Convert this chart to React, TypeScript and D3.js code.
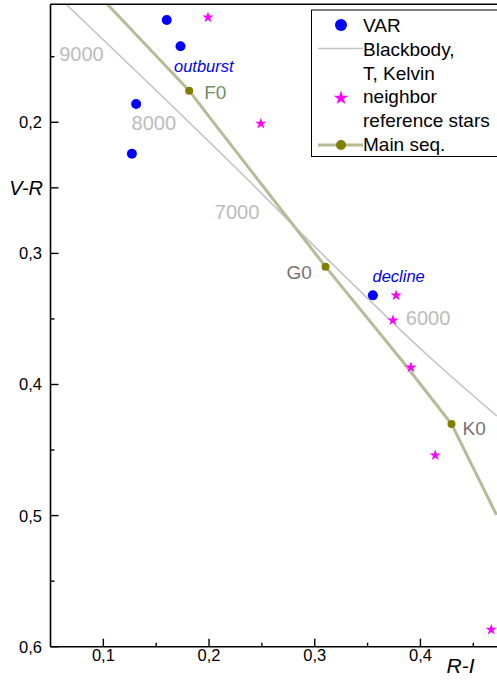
import * as d3 from "d3";

// colour indices
const varRI = [0.160, 0.173, 0.131, 0.127, 0.355];
const varVR = [0.122, 0.142, 0.186, 0.224, 0.332];

const refRI = [0.199, 0.249, 0.377, 0.374, 0.391, 0.414, 0.467];
const refVR = [0.120, 0.201, 0.332, 0.351, 0.387, 0.454, 0.587];

// blackbody track
const bbRI = [0.0645, 0.1298, 0.237, 0.3032, 0.4117, 0.4723];
const bbVR = [0.1098, 0.1601, 0.244, 0.2974, 0.3813, 0.424];
const bbTemps = ["9000", "8000", "7000", "6000"];
const bbTempRI = [0.0582, 0.1267, 0.2055, 0.3862];
const bbTempVR = [0.153, 0.2059, 0.2738, 0.3546];

// main sequence track
const msRI = [0.1036, 0.1812, 0.2024, 0.2465, 0.3102, 0.3821, 0.4294, 0.472];
const msVR = [0.1098, 0.1759, 0.1982, 0.244, 0.3101, 0.3813, 0.4301, 0.4995];
const msClass = ["F0", "G0", "K0"];
const msClassRI = [0.1812, 0.3102, 0.4294];
const msClassVR = [0.1759, 0.3101, 0.4301];

const xTicks = [0.1, 0.2, 0.3, 0.4];
const xMinor = [0.15, 0.25, 0.35, 0.45];
const yTicks = [0.2, 0.25, 0.3, 0.4, 0.5, 0.6];
const yMinor = [0.15, 0.35, 0.45, 0.55];

const width = 497;
const height = 680;
const font = "'Liberation Sans', Arial, sans-serif";

export default function App() {
  const x = d3.scaleLinear().domain([0.05, 0.475]).range([50.5, 499.7]);
  const y = d3.scaleLinear().domain([0.11, 0.6]).range([4.3, 646.7]);

  const left = x(0.05);
  const right = x(0.475);
  const top = y(0.11);
  const bottom = y(0.6);

  const bbPath = d3.line<number>()
    .x((d) => x(d))
    .y((_, i) => y(bbVR[i]))
    .curve(d3.curveMonotoneX)(bbRI);
  const msPath = d3.line<number>()
    .x((d) => x(d))
    .y((_, i) => y(msVR[i]))(msRI);

  const star = d3.symbol().type(d3.symbolStar).size(40)();
  const bigStar = d3.symbol().type(d3.symbolStar).size(64)();

  const fmt = (v: number) => v.toFixed(1).replace(".", ",");

  // legend layout
  const lgX = 311.5;
  const lgY = 10;
  const mk = 341;
  const tx = 363;
  const fs = 19;

  return (
    <svg width={width} height={height} style={{ position: "absolute", left: 0, top: 0 }} fontFamily={font}>
      <defs>
        <clipPath id="plot">
          <rect x={left} y={top} width={right - left} height={bottom - top} />
        </clipPath>
      </defs>
      <rect width={width} height={height} fill="white" />

      <g clipPath="url(#plot)">
        <path d={bbPath ?? ""} fill="none" stroke="#c3c3c3" strokeWidth={1.6} />
        <path d={msPath ?? ""} fill="none" stroke="#b7bb97" strokeWidth={3} strokeLinejoin="round" />
      </g>

      {bbTemps.map((t, i) => (
        <text key={t} x={x(bbTempRI[i])} y={y(bbTempVR[i])} fontSize={20} fill="#bcbcbc">{t}</text>
      ))}

      {msClass.map((c, i) => (
        <circle key={c} cx={x(msClassRI[i])} cy={y(msClassVR[i])} r={4} fill="#808000" />
      ))}
      <text x={x(msClassRI[0]) + 15} y={y(msClassVR[0]) + 8} fontSize={19} fill="#6f8f62">{msClass[0]}</text>
      <text x={x(msClassRI[1]) - 39} y={y(msClassVR[1]) + 12.5} fontSize={19} fill="#737373">{msClass[1]}</text>
      <text x={x(msClassRI[2]) + 11} y={y(msClassVR[2]) + 11} fontSize={19} fill="#737373">{msClass[2]}</text>

      {refRI.map((d, i) => (
        <path key={i} d={star ?? ""} transform={`translate(${x(d)},${y(refVR[i])})`} fill="#ff00ff" />
      ))}
      {varRI.map((d, i) => (
        <circle key={i} cx={x(d)} cy={y(varVR[i])} r={5} fill="#0000ff" />
      ))}

      <text x={174} y={72} fontSize={16.5} fontStyle="italic" fill="#0000ff">outburst</text>
      <text x={372.5} y={281.5} fontSize={16.5} fontStyle="italic" fill="#0000ff">decline</text>

      {/* frame and axes */}
      <line x1={left} x2={right} y1={top} y2={top} stroke="#000" strokeWidth={1.5} />
      <line x1={left} x2={left} y1={top} y2={bottom} stroke="#000" strokeWidth={1.6} />
      <line x1={left} x2={right} y1={bottom} y2={bottom} stroke="#000" strokeWidth={1.6} />

      {xTicks.map((t) => (
        <g key={t}>
          <line x1={x(t)} x2={x(t)} y1={bottom} y2={bottom - 8} stroke="#000" strokeWidth={1.4} />
          <text x={x(t)} y={bottom + 14.5} fontSize={16.5} textAnchor="middle">{fmt(t)}</text>
        </g>
      ))}
      {xMinor.map((t) => (
        <line key={t} x1={x(t)} x2={x(t)} y1={bottom} y2={bottom - 4} stroke="#000" strokeWidth={1.4} />
      ))}
      {yTicks.map((t) => (
        <g key={t}>
          <line x1={left} x2={left + 8} y1={y(t)} y2={y(t)} stroke="#000" strokeWidth={1.4} />
          {t !== 0.25 && (
            <text x={42} y={y(t)} dy="0.36em" fontSize={16.5} textAnchor="end">{fmt(t)}</text>
          )}
        </g>
      ))}
      {yMinor.map((t) => (
        <line key={t} x1={left} x2={left + 4} y1={y(t)} y2={y(t)} stroke="#000" strokeWidth={1.4} />
      ))}

      <text x={43} y={y(0.25)} dy="0.36em" fontSize={20} fontStyle="italic" textAnchor="end">V-R</text>
      <text x={446.5} y={673} fontSize={21} fontStyle="italic">R-I</text>

      {/* legend */}
      <rect x={lgX} y={lgY} width={width - lgX + 10} height={146.5} fill="white" stroke="#000" strokeWidth={1} />
      <circle cx={mk} cy={25} r={6} fill="#0000ff" />
      <text x={tx} y={32} fontSize={fs}>VAR</text>
      <line x1={318} x2={tx} y1={48.5} y2={48.5} stroke="#c3c3c3" strokeWidth={1.6} />
      <text x={tx} y={55.5} fontSize={fs}>Blackbody,</text>
      <text x={tx} y={79.5} fontSize={fs}>T, Kelvin</text>
      <path d={bigStar ?? ""} transform={`translate(${mk},${98})`} fill="#ff00ff" />
      <text x={tx} y={103} fontSize={fs}>neighbor</text>
      <text x={tx} y={127} fontSize={fs}>reference stars</text>
      <line x1={318} x2={tx} y1={145} y2={145} stroke="#b7bb97" strokeWidth={3} />
      <circle cx={mk} cy={145} r={5} fill="#808000" />
      <text x={tx} y={150.5} fontSize={fs}>Main seq.</text>
    </svg>
  );
}
